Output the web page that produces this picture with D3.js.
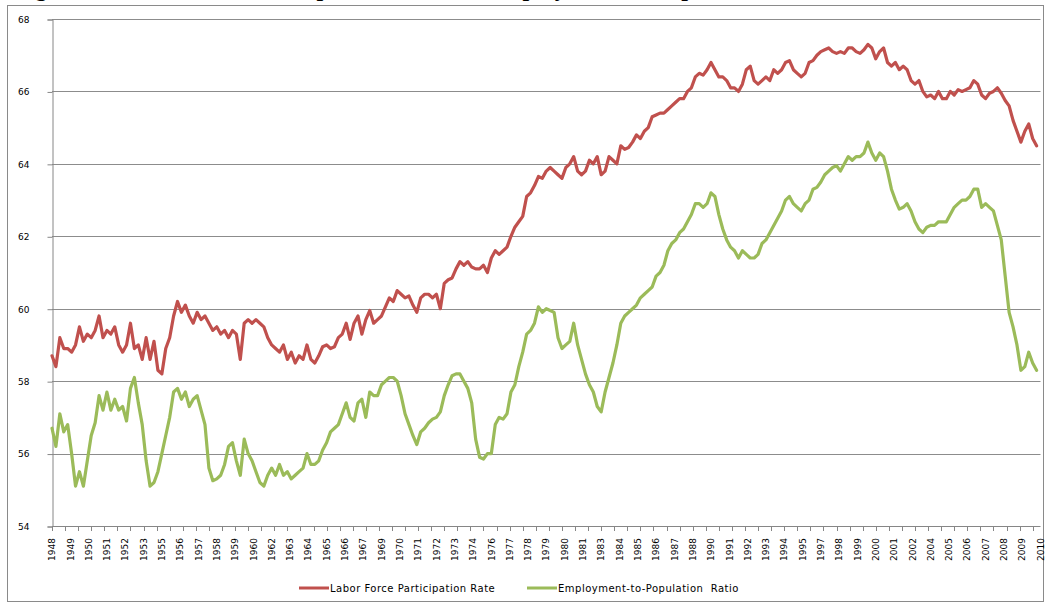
<!DOCTYPE html>
<html><head><meta charset="utf-8">
<script src="https://cdn.jsdelivr.net/npm/d3@7"></script>
<style>body{margin:0;background:#fff}svg{display:block}</style>
</head><body>
<svg id="chart" width="1045" height="605"></svg>
<script>
// ---- data (quarterly readings, starting Q1 1948) ----
const startYear = 1948;
const stepYears = 0.25;
const lfpr = [
58.7,58.4,59.2,58.9, 58.9,58.8,59.0,59.5, 59.1,59.3,59.2,59.4, 59.8,59.2,59.4,59.3,
59.5,59.0,58.8,59.0, 59.6,58.9,59.0,58.6, 59.2,58.6,59.1,58.3, 58.2,58.9,59.2,59.8,
60.2,59.9,60.1,59.8, 59.6,59.9,59.7,59.8, 59.6,59.4,59.5,59.3, 59.4,59.2,59.4,59.3,
58.6,59.6,59.7,59.6, 59.7,59.6,59.5,59.2, 59.0,58.9,58.8,59.0, 58.6,58.8,58.5,58.7,
58.6,59.0,58.6,58.5, 58.7,58.95,59.0,58.9, 58.95,59.2,59.3,59.6, 59.15,59.6,59.8,59.3,
59.7,59.95,59.6,59.7, 59.8,60.05,60.3,60.2, 60.5,60.4,60.3,60.35, 60.1,59.9,60.3,60.4,
60.4,60.3,60.4,60.0, 60.7,60.8,60.85,61.1, 61.3,61.2,61.3,61.15, 61.1,61.1,61.2,61.0,
61.4,61.6,61.5,61.6, 61.7,62.0,62.25,62.4, 62.55,63.1,63.2,63.4, 63.65,63.6,63.8,63.9,
63.8,63.7,63.6,63.9, 64.0,64.2,63.8,63.7, 63.8,64.1,64.0,64.2, 63.7,63.8,64.2,64.1,
64.0,64.5,64.4,64.45, 64.6,64.8,64.7,64.9, 65.0,65.3,65.35,65.4, 65.4,65.5,65.6,65.7,
65.8,65.8,66.0,66.1, 66.4,66.5,66.45,66.6, 66.8,66.6,66.4,66.4, 66.3,66.1,66.1,66.0,
66.2,66.6,66.7,66.3, 66.2,66.3,66.4,66.3, 66.6,66.5,66.6,66.8, 66.85,66.6,66.5,66.4,
66.5,66.8,66.85,67.0, 67.1,67.15,67.2,67.1, 67.05,67.1,67.05,67.2, 67.2,67.1,67.05,67.15,
67.3,67.2,66.9,67.1, 67.2,66.8,66.7,66.8, 66.6,66.7,66.6,66.3, 66.2,66.3,66.0,65.85,
65.9,65.8,66.0,65.8, 65.8,66.0,65.9,66.05, 66.0,66.05,66.1,66.3, 66.2,65.9,65.8,65.95,
66.0,66.1,65.95,65.75, 65.6,65.2,64.9,64.6, 64.9,65.1,64.7,64.5
];
const epop = [
56.7,56.2,57.1,56.6, 56.8,56.0,55.1,55.5, 55.1,55.8,56.5,56.85, 57.6,57.2,57.7,57.2,
57.5,57.2,57.3,56.9, 57.8,58.1,57.4,56.8, 55.8,55.1,55.2,55.5, 56.0,56.5,57.0,57.7,
57.8,57.5,57.7,57.3, 57.5,57.6,57.2,56.8, 55.6,55.25,55.3,55.4, 55.7,56.2,56.3,55.8,
55.4,56.4,56.0,55.8, 55.5,55.2,55.1,55.4, 55.6,55.4,55.7,55.4, 55.5,55.3,55.4,55.5,
55.6,56.0,55.7,55.7, 55.8,56.1,56.3,56.6, 56.7,56.8,57.1,57.4, 57.0,56.9,57.4,57.5,
57.0,57.7,57.6,57.6, 57.9,58.0,58.1,58.1, 58.0,57.6,57.1,56.8, 56.5,56.25,56.6,56.7,
56.85,56.95,57.0,57.15, 57.6,57.9,58.15,58.2, 58.2,58.0,57.8,57.4, 56.4,55.9,55.85,56.0,
56.0,56.8,57.0,56.95, 57.1,57.7,57.9,58.4, 58.8,59.3,59.4,59.6, 60.05,59.9,60.0,59.95,
59.9,59.2,58.9,59.0, 59.1,59.6,59.0,58.6, 58.2,57.9,57.7,57.3, 57.15,57.7,58.1,58.5,
59.0,59.6,59.8,59.9, 60.0,60.1,60.3,60.4, 60.5,60.6,60.9,61.0, 61.2,61.6,61.8,61.9,
62.1,62.2,62.4,62.6, 62.9,62.9,62.8,62.9, 63.2,63.1,62.6,62.2, 61.9,61.7,61.6,61.4,
61.6,61.5,61.4,61.4, 61.5,61.8,61.9,62.1, 62.3,62.5,62.7,63.0, 63.1,62.9,62.8,62.7,
62.9,63.0,63.3,63.35, 63.5,63.7,63.8,63.9, 63.95,63.8,64.0,64.2, 64.1,64.2,64.2,64.3,
64.6,64.3,64.1,64.3, 64.2,63.8,63.3,63.0, 62.75,62.8,62.9,62.7, 62.4,62.2,62.1,62.25,
62.3,62.3,62.4,62.4, 62.4,62.6,62.8,62.9, 63.0,63.0,63.1,63.3, 63.3,62.8,62.9,62.8,
62.7,62.3,61.9,60.9, 59.9,59.5,59.0,58.3, 58.4,58.8,58.5,58.3
];
const yTicks = [54, 56, 58, 60, 62, 64, 66, 68];
const xTickLabels = ["1948","1949","1950","1951","1952","1953","1955","1956","1957","1958",
"1959","1960","1962","1963","1964","1965","1966","1967","1969","1970","1971","1972","1973",
"1974","1976","1977","1978","1979","1980","1981","1983","1984","1985","1986","1987","1988",
"1990","1991","1992","1993","1994","1995","1997","1998","1999","2000","2001","2002","2004",
"2005","2006","2007","2008","2009","2010"];
const seriesNames = ["Labor Force Participation Rate", "Employment-to-Population  Ratio"];
const seriesColors = ["#C0504D", "#9BBB59"];
const titleText = "Figure 1: Labor Force Participation Rate and Employment-to-Population Ratio";

// ---- layout ----
const svg = d3.select("#chart");
const plot = {left: 52, right: 1040.5, top: 19, bottom: 526};
const x = d3.scaleLinear().domain([1948, 2011]).range([plot.left, plot.right]);
const y = d3.scaleLinear().domain([54, 68]).range([plot.bottom, plot.top]);
const font = "'DejaVu Sans', Verdana, sans-serif";

// frame
svg.append("rect").attr("x", 7.5).attr("y", 5.5).attr("width", 1036).attr("height", 596)
  .attr("fill", "none").attr("stroke", "#8a8a8a").attr("stroke-width", 1);

// title (cut off at top, as in the source image)
svg.append("text").attr("x", 14).attr("y", -4)
  .attr("font-family", "'Liberation Serif', 'Times New Roman', serif")
  .attr("font-weight", "bold").attr("font-size", 24).attr("fill", "#000")
  .text(titleText);

// gridlines
svg.append("g").selectAll("line").data(yTicks.filter(d => d > 54)).join("line")
  .attr("x1", plot.left).attr("x2", plot.right)
  .attr("y1", d => Math.round(y(d)) + 0.5).attr("y2", d => Math.round(y(d)) + 0.5)
  .attr("stroke", "#8c8c8c").attr("stroke-width", 1);

// y axis
const yAxis = d3.axisLeft(y).tickValues(yTicks).tickSize(5).tickPadding(18).tickFormat(d3.format("d"));
const gy = svg.append("g").attr("transform", `translate(${plot.left + 0.5},0.5)`).call(yAxis);
gy.select(".domain").attr("stroke", "#868686");
gy.selectAll(".tick line").attr("stroke", "#868686");
gy.selectAll("text").attr("font-family", font).attr("font-size", 9).attr("fill", "#000");

// x axis baseline + minor ticks (every 10 months)
const minorTicks = d3.range(0, 757, 10).map(m => 1948 + m / 12).filter(t => t <= 2011);
const gx = svg.append("g");
gx.append("line").attr("x1", plot.left).attr("x2", plot.right)
  .attr("y1", plot.bottom + 0.5).attr("y2", plot.bottom + 0.5).attr("stroke", "#868686");
gx.selectAll("line.mt").data(minorTicks).join("line").attr("class", "mt")
  .attr("x1", d => Math.round(x(d)) + 0.5).attr("x2", d => Math.round(x(d)) + 0.5)
  .attr("y1", plot.bottom).attr("y2", plot.bottom + 5).attr("stroke", "#868686");

// x labels
const xl = d3.scalePoint().domain(xTickLabels).range([plot.left, plot.right]);
gx.selectAll("text").data(xTickLabels).join("text")
  .attr("transform", d => `translate(${xl(d) + 3.2},538) rotate(-90)`)
  .attr("text-anchor", "end").attr("font-family", font).attr("font-size", 9).attr("fill", "#000")
  .text(d => d);

// lines
const series = [lfpr, epop];
const line = d3.line().x((d, i) => x(startYear + i * stepYears)).y(d => y(d)).curve(d3.curveLinear);
svg.append("g").selectAll("path").data(series).join("path")
  .attr("d", d => line(d)).attr("fill", "none")
  .attr("stroke", (d, i) => seriesColors[i]).attr("stroke-width", 3.2)
  .attr("stroke-linejoin", "round").attr("stroke-linecap", "round");

// legend
const legendX = [299, 527];
const lg = svg.append("g");
seriesNames.forEach((name, i) => {
  lg.append("line").attr("x1", legendX[i]).attr("x2", legendX[i] + 30)
    .attr("y1", 588).attr("y2", 588).attr("stroke", seriesColors[i]).attr("stroke-width", 3);
  lg.append("text").attr("x", legendX[i] + 31).attr("y", 591.5)
    .attr("font-family", font).attr("font-size", 10).attr("letter-spacing", 0.5).attr("fill", "#000")
    .style("white-space", "pre").text(name);
});
</script>
</body></html>
